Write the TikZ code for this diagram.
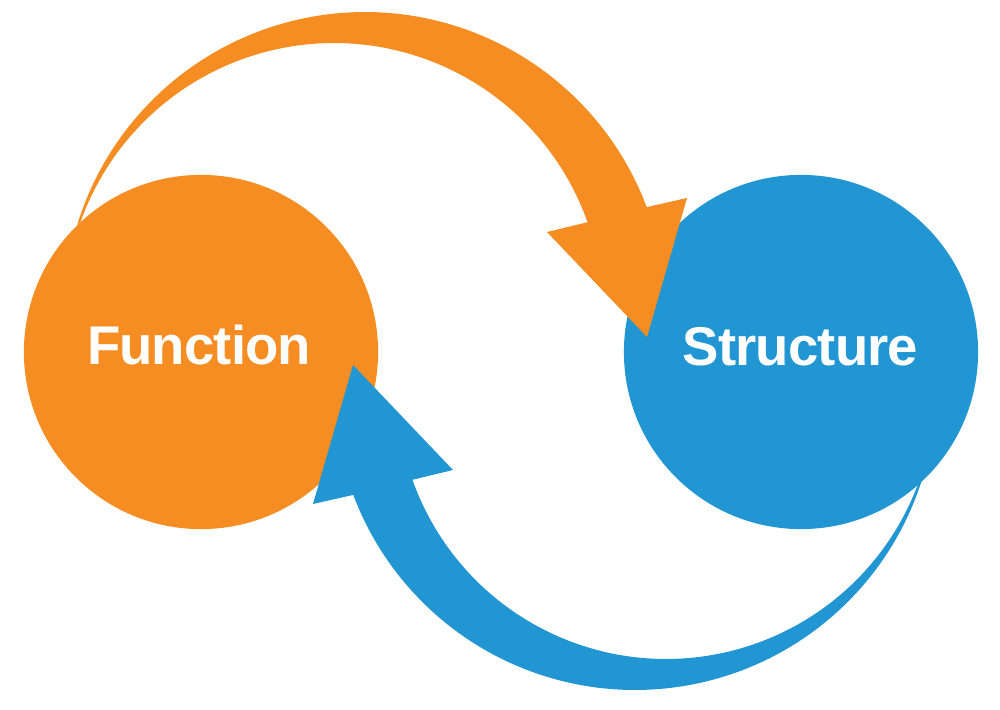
\documentclass[tikz,border=0pt]{standalone}
\usepackage{fontspec}
\setmainfont{Liberation Sans}
\newfontfamily\lblfont[LetterSpace=-1.6]{Liberation Sans}
\definecolor{orangec}{HTML}{F58D22}
\definecolor{bluec}{HTML}{2196D3}
\begin{document}
\begin{tikzpicture}[x=0.01cm,y=-0.01cm,
  disc/.style={circle,inner sep=0pt,minimum size=3.54cm},
  label/.style={text=white,font=\lblfont\fontsize{15.5pt}{18pt}\selectfont\bfseries,anchor=base,inner sep=0pt}]
\useasboundingbox (0,0) rectangle (1000,709);
% circles
\node[disc,fill=orangec] (func) at (201,352) {};
\node[disc,fill=bluec] (struct) at (801,352) {};
% orange arrow (Function -> Structure)
\fill[orangec] plot[domain=197:339.4,samples=90] ({365+301*cos(\x)},{313+301*sin(\x)})
  -- (687,198) -- (647,337) -- (547,232)
  -- plot[domain=340.5:199.6,samples=90] ({334+269*cos(\x)},{312+269*sin(\x)}) -- cycle;
% blue arrow (Structure -> Function): same shape turned half round
\begin{scope}[rotate around={180:(500,351)}]
\fill[bluec] plot[domain=197:339.4,samples=90] ({365+301*cos(\x)},{313+301*sin(\x)})
  -- (687,198) -- (647,337) -- (547,232)
  -- plot[domain=340.5:199.6,samples=90] ({334+269*cos(\x)},{312+269*sin(\x)}) -- cycle;
\end{scope}
% labels
\node[label] (funclabel) at (199,364) {Function};
\node[label] (structlabel) at (800.5,365) {Structure};
\end{tikzpicture}
\end{document}
